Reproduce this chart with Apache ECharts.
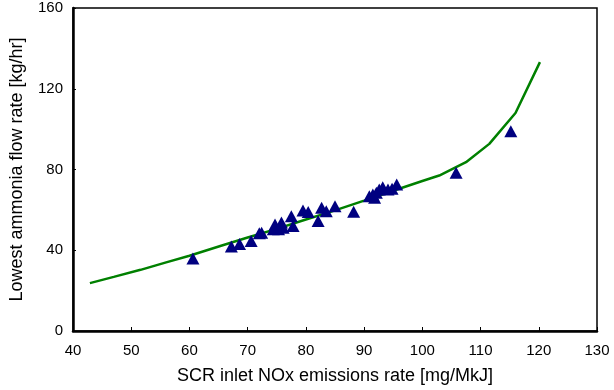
<!DOCTYPE html>
<html>
<head>
<meta charset="utf-8">
<script src="https://cdn.jsdelivr.net/npm/echarts@6/dist/echarts.min.js"></script>
<style>
  html, body { margin: 0; padding: 0; background: #fff; }
  #chart { width: 614px; height: 390px; }
</style>
</head>
<body>
<div id="chart"></div>
<script>
  // fitted curve (green)
  var curveX = [42.9, 47, 51.6, 56, 60, 65.3, 70, 75, 80, 84.1, 90, 95, 100, 102.9, 107.5, 111.5, 116, 120.2];
  var curveY = [23.7, 26.8, 30.3, 34.0, 37.3, 42.1, 46.3, 50.6, 55.2, 58.9, 64.6, 69.5, 74.3, 77.0, 83.6, 92.7, 108.0, 133.2];

  // measured points (triangles)
  var measX = [60.6, 67.2, 68.6, 70.6, 72.0, 72.4, 74.4, 74.7, 75.3, 75.8, 76.1, 77.5, 77.8, 79.5, 80.4,
    82.1, 82.7, 83.5, 85.0, 88.2, 90.9, 91.5, 91.8, 92.1, 92.6, 93.2, 94.1, 94.8, 95.6, 105.8, 115.2];
  var measY = [35.9, 41.8, 43.1, 44.6, 48.4, 48.7, 50.4, 52.8, 50.4, 53.7, 51.2, 56.9, 52.0, 59.7, 58.9,
    54.5, 61.1, 59.3, 61.8, 59.1, 66.8, 67.6, 66.0, 68.5, 70.1, 71.2, 70.1, 70.5, 72.6, 78.4, 98.9];

  var xTicks = { min: 40, max: 130, interval: 10 };
  var yTicks = { min: 0, max: 160, interval: 40 };

  function pairs(xs, ys) {
    return xs.map(function (x, i) { return [x, ys[i]]; });
  }

  var chart = echarts.init(document.getElementById('chart'), null, { renderer: 'canvas' });
  var font = 'Liberation Sans, Arial, sans-serif';

  chart.setOption({
    animation: false,
    grid: {
      left: 72, right: 17, top: 8, bottom: 58,
      show: true, borderColor: '#000', borderWidth: 1.5, backgroundColor: 'transparent'
    },
    xAxis: {
      type: 'value',
      min: xTicks.min, max: xTicks.max, interval: xTicks.interval,
      name: 'SCR inlet NOx emissions rate [mg/MkJ]',
      nameLocation: 'middle', nameGap: 36,
      nameTextStyle: { fontFamily: font, fontSize: 18, color: '#000' },
      axisLine: { onZero: false, lineStyle: { color: '#000', width: 2.5 } },
      axisTick: { inside: true, length: 4, lineStyle: { color: '#000', width: 1 } },
      axisLabel: { fontFamily: font, fontSize: 15, color: '#000', margin: 12 },
      splitLine: { show: false }
    },
    yAxis: {
      type: 'value',
      min: yTicks.min, max: yTicks.max, interval: yTicks.interval,
      name: 'Lowest ammonia flow rate [kg/hr]',
      nameLocation: 'middle', nameGap: 47,
      nameTextStyle: { fontFamily: font, fontSize: 18, color: '#000' },
      axisLine: { onZero: false, lineStyle: { color: '#000', width: 2.5 } },
      axisTick: { inside: true, length: 3, lineStyle: { color: '#000', width: 1 } },
      axisLabel: { fontFamily: font, fontSize: 15, color: '#000', margin: 10 },
      splitLine: { show: false }
    },
    series: [
      {
        type: 'line',
        data: pairs(curveX, curveY),
        symbol: 'none',
        smooth: false,
        lineStyle: { color: '#008000', width: 2.5 },
        z: 2
      },
      {
        type: 'scatter',
        data: pairs(measX, measY),
        symbol: 'triangle',
        symbolSize: [13, 12],
        itemStyle: { color: '#000080', opacity: 1 },
        z: 3
      }
    ]
  });
</script>
</body>
</html>
